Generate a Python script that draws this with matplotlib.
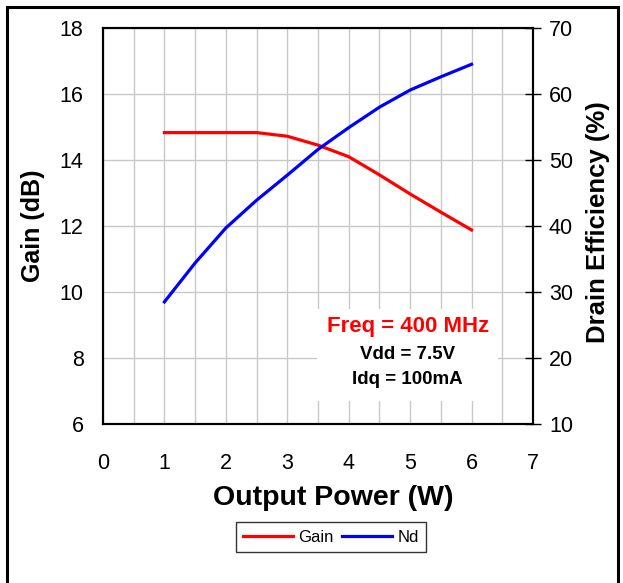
import matplotlib.pyplot as plt
from matplotlib.patches import Rectangle

plt.rcParams['font.family'] = ['Liberation Sans', 'DejaVu Sans']

# data
pout = [1, 1.5, 2, 2.5, 3, 3.5, 4, 4.5, 5, 5.5, 6]
gain = [14.83, 14.83, 14.83, 14.83, 14.72, 14.45, 14.1, 13.55, 12.97, 12.42, 11.88]
nd = [28.5, 34.4, 39.7, 43.9, 47.7, 51.6, 54.9, 58.0, 60.6, 62.6, 64.5]

fig = plt.figure(figsize=(6.23, 5.83), dpi=100)
ax1 = fig.add_axes([0.1653, 0.2727, 0.6902, 0.6793])
ax2 = ax1.twinx()

# grid
ax1.set_xlim(0, 7)
ax1.set_ylim(6, 18)
ax1.set_xticks(range(0, 8))
ax1.set_xticks([x + 0.5 for x in range(7)], minor=True)
ax1.set_yticks(range(6, 19, 2))
ax1.grid(True, which='both', axis='x', color='#c8c8c8', lw=1)
ax1.grid(True, axis='y', color='#c8c8c8', lw=1)
ax1.set_axisbelow(True)
ax1.tick_params(axis='both', which='both', length=0, labelsize=15.5)
ax1.tick_params(axis='x', pad=21)
ax1.tick_params(axis='y', pad=14)

ax2.set_ylim(10, 70)
ax2.set_yticks(range(10, 71, 10))
ax2.tick_params(axis='y', direction='inout', length=11, width=1, labelsize=15.5, pad=6)

for a in (ax1, ax2):
    for s in a.spines.values():
        s.set_linewidth(1.5)
        s.set_color('black')

l1, = ax1.plot(pout, gain, color='#ff0000', lw=2.3, label='Gain', zorder=3)
l2, = ax2.plot(pout, nd, color='#0000ff', lw=2.3, label='Nd', zorder=3)

# white box behind the condition text
ax1.add_patch(Rectangle((3.48, 6.7), 2.95, 2.78, facecolor='white',
                        edgecolor='none', zorder=2))
ax1.text(4.96, 8.95, 'Freq = 400 MHz', color='#ff0000', fontsize=16,
         fontweight='bold', ha='center', va='center', zorder=4)
ax1.text(4.96, 8.1, 'Vdd = 7.5V', color='black', fontsize=13.5,
         fontweight='bold', ha='center', va='center', zorder=4)
ax1.text(4.96, 7.35, 'Idq = 100mA', color='black', fontsize=13.5,
         fontweight='bold', ha='center', va='center', zorder=4)

fig.text(333 / 623, 1 - 498 / 583, 'Output Power (W)', fontsize=20.5,
         fontweight='bold', ha='center', va='center')
fig.text(33 / 623, 1 - 226 / 583, 'Gain (dB)', fontsize=18,
         fontweight='bold', ha='center', va='center', rotation=90)
fig.text(598 / 623, 1 - 222 / 583, 'Drain Efficiency (%)', fontsize=18.5,
         fontweight='bold', ha='center', va='center', rotation=90)

leg = fig.legend(handles=[l1, l2], loc='center', ncol=2,
                 bbox_to_anchor=(331 / 623, 1 - 537 / 583), fontsize=12,
                 frameon=True, fancybox=False, edgecolor='black',
                 handlelength=3.0, handletextpad=0.3, columnspacing=0.5,
                 borderpad=0.45)
leg.get_frame().set_linewidth(1)

# outer border of the figure panel
fig.add_artist(Rectangle((7 / 623, -0.01), 611 / 623, 1 - 7 / 583 + 0.01,
                         transform=fig.transFigure, fill=False,
                         edgecolor='black', lw=2.2))

fig.savefig('out.png', dpi=100)
